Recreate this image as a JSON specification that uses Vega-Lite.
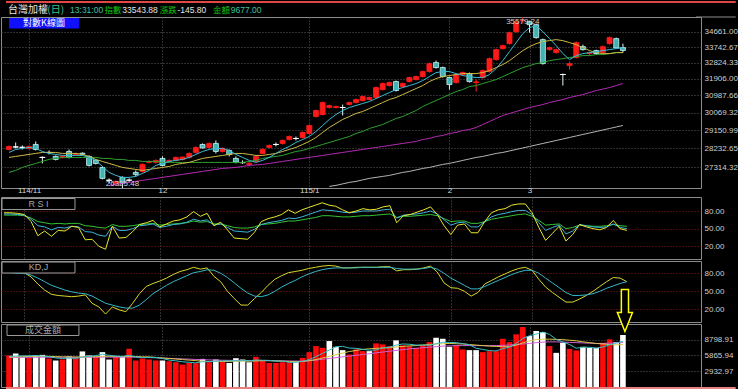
{
"$schema":"https://vega.github.io/schema/vega-lite/v6.json",
"background":"#000000",
"padding":0,
"bounds":"flush",
"spacing":9,
"resolve":{"scale":{"color":"independent"}},
"config":{
 "view":{"stroke":"#8c8c8c","strokeWidth":1},
 "axis":{"labelFont":"Liberation Sans","labelFontSize":8,"labelColor":"#cfcfcf","domain":false,"ticks":false,"gridDash":[1,2],"gridColor":"#5c5c5c","gridWidth":1,"gridOpacity":1,"labelOverlap":false,"labelFlush":false}
},
"datasets":{"k":[
{"i":0,"o":28175,"h":28374,"l":28126,"c":28324,"m5":28027,"m10":27782,"m20":27058,"r1":77,"r2":75,"r3":73,"k":83,"d":81,"v":5866,"u":1,"v5":5700,"v10":5600,"v20":5500},
{"i":1,"o":28300,"h":28524,"l":28225,"c":28300,"m5":28175,"m10":27831,"m20":27154,"r1":77,"r2":75,"r3":73,"k":83,"d":81,"v":6240,"u":0,"v5":5750,"v10":5620,"v20":5500},
{"i":2,"o":28280,"h":28374,"l":28175,"c":28280,"m5":28225,"m10":27880,"m20":27297,"r1":76,"r2":74,"r3":73,"k":82,"d":80,"v":5603,"u":0,"v5":5800,"v10":5650,"v20":5510},
{"i":3,"o":28225,"h":28374,"l":28175,"c":28324,"m5":28275,"m10":27929,"m20":27394,"r1":74,"r2":73,"r3":72,"k":81,"d":80,"v":5416,"u":1,"v5":5800,"v10":5680,"v20":5520},
{"i":4,"o":28424,"h":28574,"l":28126,"c":28175,"m5":28225,"m10":27978,"m20":27490,"r1":62,"r2":66,"r3":68,"k":74,"d":77,"v":5866,"u":0,"v5":5850,"v10":5700,"v20":5530},
{"i":5,"o":27782,"h":27831,"l":27490,"c":27782,"m5":28076,"m10":28027,"m20":27587,"r1":38,"r2":55,"r3":62,"k":62,"d":72,"v":5978,"u":0,"v5":5750,"v10":5720,"v20":5540},
{"i":6,"o":28027,"h":28126,"l":27929,"c":28027,"m5":27978,"m10":28027,"m20":27685,"r1":46,"r2":53,"r3":60,"k":52,"d":66,"v":5303,"u":1,"v5":5650,"v10":5700,"v20":5550},
{"i":7,"o":27831,"h":27880,"l":27636,"c":27685,"m5":27929,"m10":28027,"m20":27733,"r1":37,"r2":48,"r3":58,"k":45,"d":60,"v":4929,"u":0,"v5":5400,"v10":5650,"v20":5550},
{"i":8,"o":27782,"h":27880,"l":27733,"c":27831,"m5":27880,"m10":27978,"m20":27782,"r1":47,"r2":52,"r3":59,"k":43,"d":56,"v":5116,"u":1,"v5":5300,"v10":5600,"v20":5540},
{"i":9,"o":28076,"h":28175,"l":27733,"c":27782,"m5":27880,"m10":27978,"m20":27782,"r1":46,"r2":51,"r3":58,"k":42,"d":52,"v":5678,"u":0,"v5":5380,"v10":5600,"v20":5530},
{"i":10,"o":27929,"h":28027,"l":27880,"c":27978,"m5":27880,"m10":27978,"m20":27782,"r1":54,"r2":54,"r3":59,"k":41,"d":49,"v":5547,"u":1,"v5":5320,"v10":5580,"v20":5520},
{"i":11,"o":27990,"h":28027,"l":27880,"c":27940,"m5":27880,"m10":27929,"m20":27782,"r1":52,"r2":53,"r3":59,"k":42,"d":47,"v":6615,"u":0,"v5":5600,"v10":5600,"v20":5520},
{"i":12,"o":27831,"h":27880,"l":27345,"c":27394,"m5":27782,"m10":27831,"m20":27782,"r1":31,"r2":45,"r3":55,"k":44,"d":46,"v":5866,"u":0,"v5":5700,"v10":5620,"v20":5530},
{"i":13,"o":27636,"h":27685,"l":27442,"c":27490,"m5":27636,"m10":27685,"m20":27782,"r1":32,"r2":44,"r3":54,"k":30,"d":42,"v":5734,"u":1,"v5":5850,"v10":5650,"v20":5540},
{"i":14,"o":27297,"h":27345,"l":26728,"c":26775,"m5":27345,"m10":27587,"m20":27733,"r1":20,"r2":39,"r3":52,"k":24,"d":36,"v":6484,"u":0,"v5":6100,"v10":5700,"v20":5560},
{"i":15,"o":26685,"h":26775,"l":26540,"c":26685,"m5":27058,"m10":27490,"m20":27733,"m60":26447,"r1":15,"r2":37,"r3":51,"k":12,"d":30,"v":5116,"u":0,"v5":5900,"v10":5720,"v20":5560},
{"i":16,"o":26540,"h":26681,"l":26447,"c":26633,"m5":26916,"m10":27394,"m20":27685,"m60":26493,"r1":54,"r2":54,"r3":57,"k":24,"d":27,"v":5603,"u":1,"v5":5750,"v10":5700,"v20":5550},
{"i":17,"o":26822,"h":26869,"l":26325.48,"c":26540,"m5":26822,"m10":27297,"m20":27685,"m60":26540,"r1":34,"r2":47,"r3":54,"k":19,"d":24,"v":5734,"u":0,"v5":5700,"v10":5650,"v20":5550},
{"i":18,"o":26690,"h":26775,"l":26587,"c":26690,"m5":26822,"m10":27249,"m20":27636,"m60":26587,"r1":35,"r2":47,"r3":54,"k":16,"d":22,"v":7102,"u":1,"v5":5900,"v10":5700,"v20":5570},
{"i":19,"o":27058,"h":27154,"l":26869,"c":26963,"m5":26869,"m10":27202,"m20":27636,"m60":26633,"r1":45,"r2":50,"r3":55,"k":30,"d":22,"v":4929,"u":1,"v5":5600,"v10":5650,"v20":5550},
{"i":20,"o":27106,"h":27490,"l":27058,"c":27442,"m5":27011,"m10":27154,"m20":27587,"m60":26681,"r1":57,"r2":55,"r3":57,"k":46,"d":27,"v":5303,"u":1,"v5":5500,"v10":5600,"v20":5520},
{"i":21,"o":27539,"h":27636,"l":27490,"c":27587,"m5":27154,"m10":27202,"m20":27587,"m60":26728,"r1":60,"r2":56,"r3":58,"k":58,"d":36,"v":5116,"u":1,"v5":5500,"v10":5600,"v20":5480},
{"i":22,"o":27539,"h":27685,"l":27490,"c":27636,"m5":27394,"m10":27249,"m20":27587,"m60":26775,"r1":64,"r2":58,"r3":59,"k":63,"d":46,"v":4929,"u":1,"v5":5500,"v10":5500,"v20":5430},
{"i":23,"o":27733,"h":27831,"l":27345,"c":27394,"m5":27490,"m10":27297,"m20":27539,"m60":26822,"r1":53,"r2":52,"r3":56,"k":67,"d":53,"v":4929,"u":0,"v5":5300,"v10":5400,"v20":5380},
{"i":24,"o":27587,"h":27685,"l":27539,"c":27636,"m5":27587,"m10":27345,"m20":27539,"m60":26869,"r1":58,"r2":54,"r3":57,"k":72,"d":60,"v":4797,"u":1,"v5":5000,"v10":5300,"v20":5330},
{"i":25,"o":27636,"h":27831,"l":27587,"c":27782,"m5":27636,"m10":27442,"m20":27539,"m60":26916,"r1":63,"r2":57,"r3":58,"k":78,"d":66,"v":4610,"u":1,"v5":4870,"v10":5200,"v20":5280},
{"i":26,"o":27685,"h":27831,"l":27636,"c":27800,"m5":27685,"m10":27490,"m20":27539,"m60":26963,"r1":65,"r2":58,"r3":59,"k":83,"d":71,"v":4179,"u":1,"v5":4690,"v10":5100,"v20":5230},
{"i":27,"o":27782,"h":28027,"l":27733,"c":27978,"m5":27782,"m10":27539,"m20":27539,"m60":27011,"r1":70,"r2":61,"r3":60,"k":86,"d":76,"v":4479,"u":1,"v5":4600,"v10":5000,"v20":5180},
{"i":28,"o":28027,"h":28324,"l":27978,"c":28275,"m5":27929,"m10":27636,"m20":27539,"m60":27058,"r1":79,"r2":66,"r3":63,"k":90,"d":81,"v":4423,"u":1,"v5":4490,"v10":4900,"v20":5130},
{"i":29,"o":28424,"h":28474,"l":28225,"c":28250,"m5":28076,"m10":27733,"m20":27539,"m60":27106,"r1":71,"r2":63,"r3":61,"k":87,"d":83,"v":5228,"u":0,"v5":4700,"v10":4800,"v20":5080},
{"i":30,"o":28275,"h":28524,"l":28225,"c":28474,"m5":28175,"m10":27782,"m20":27539,"m60":27154,"r1":76,"r2":65,"r3":62,"k":89,"d":86,"v":4610,"u":1,"v5":4720,"v10":4750,"v20":5040},
{"i":31,"o":28474,"h":28625,"l":27978,"c":28076,"m5":28225,"m10":27831,"m20":27539,"m60":27202,"r1":55,"r2":56,"r3":58,"k":75,"d":85,"v":5116,"u":0,"v5":4800,"v10":4750,"v20":5000},
{"i":32,"o":28076,"h":28275,"l":28027,"c":28225,"m5":28225,"m10":27880,"m20":27539,"m60":27249,"r1":61,"r2":58,"r3":58,"k":66,"d":80,"v":4797,"u":1,"v5":4850,"v10":4750,"v20":4980},
{"i":33,"o":28126,"h":28175,"l":27831,"c":27929,"m5":28126,"m10":27929,"m20":27539,"m60":27273,"r1":48,"r2":52,"r3":55,"k":50,"d":73,"v":4479,"u":0,"v5":4870,"v10":4750,"v20":4960},
{"i":34,"o":27733,"h":27831,"l":27490,"c":27560,"m5":27929,"m10":27978,"m20":27539,"m60":27297,"r1":34,"r2":46,"r3":52,"k":38,"d":64,"v":5360,"u":0,"v5":4870,"v10":4780,"v20":4940},
{"i":35,"o":27530,"h":27640,"l":27470,"c":27530,"m5":27782,"m10":27978,"m20":27539,"m60":27345,"r1":33,"r2":45,"r3":51,"k":27,"d":55,"v":5116,"u":0,"v5":4920,"v10":4800,"v20":4930},
{"i":36,"o":27442,"h":27587,"l":27345,"c":27500,"m5":27636,"m10":27929,"m20":27587,"m60":27394,"r1":32,"r2":44,"r3":51,"k":27,"d":47,"v":4610,"u":0,"v5":4870,"v10":4800,"v20":4920},
{"i":37,"o":27587,"h":27880,"l":27539,"c":27831,"m5":27539,"m10":27880,"m20":27636,"m60":27418,"r1":44,"r2":49,"r3":53,"k":38,"d":42,"v":5603,"u":1,"v5":5030,"v10":4850,"v20":4910},
{"i":38,"o":27978,"h":28225,"l":27929,"c":28175,"m5":27636,"m10":27880,"m20":27733,"m60":27442,"r1":62,"r2":57,"r3":57,"k":48,"d":41,"v":4985,"u":1,"v5":4980,"v10":4900,"v20":4900},
{"i":39,"o":28275,"h":28424,"l":28225,"c":28374,"m5":27782,"m10":27929,"m20":27782,"m60":27490,"r1":67,"r2":60,"r3":58,"k":60,"d":44,"v":4479,"u":1,"v5":4950,"v10":4900,"v20":4890},
{"i":40,"o":28424,"h":28524,"l":28324,"c":28424,"m5":27978,"m10":27978,"m20":27831,"m60":27539,"r1":70,"r2":62,"r3":59,"k":70,"d":50,"v":4479,"u":1,"v5":4830,"v10":4850,"v20":4880},
{"i":41,"o":28474,"h":28675,"l":28424,"c":28625,"m5":28175,"m10":28076,"m20":27880,"m60":27587,"r1":74,"r2":64,"r3":61,"k":76,"d":57,"v":4610,"u":1,"v5":4830,"v10":4800,"v20":4860},
{"i":42,"o":28675,"h":28878,"l":28625,"c":28827,"m5":28324,"m10":28175,"m20":27978,"m60":27636,"r1":82,"r2":68,"r3":63,"k":81,"d":63,"v":4610,"u":1,"v5":4590,"v10":4750,"v20":4840},
{"i":43,"o":28726,"h":28827,"l":28625,"c":28726,"m5":28524,"m10":28275,"m20":28076,"m60":27685,"r1":76,"r2":67,"r3":63,"k":83,"d":68,"v":4797,"u":0,"v5":4590,"v10":4700,"v20":4820},
{"i":44,"o":28776,"h":29081,"l":28726,"c":29030,"m5":28675,"m10":28424,"m20":28126,"m60":27733,"r1":82,"r2":70,"r3":65,"k":85,"d":74,"v":5416,"u":1,"v5":4780,"v10":4750,"v20":4820},
{"i":45,"o":28979,"h":29442,"l":28929,"c":29390,"m5":28827,"m10":28574,"m20":28225,"m60":27782,"r1":86,"r2":74,"r3":67,"k":88,"d":79,"v":6484,"u":1,"v5":5100,"v10":4900,"v20":4900},
{"i":46,"o":29859,"h":30229,"l":29807,"c":30176,"m5":29081,"m10":28776,"m20":28324,"m60":27831,"r1":90,"r2":78,"r3":69,"k":90,"d":83,"v":7608,"u":1,"v5":5650,"v10":5100,"v20":5000},
{"i":47,"o":29964,"h":30657,"l":29912,"c":30603,"m5":29390,"m10":29030,"m20":28424,"m60":27880,"r1":94,"r2":82,"r3":72,"k":92,"d":86,"v":7290,"u":1,"v5":6250,"v10":5400,"v20":5150},
{"i":48,"o":30335,"h":30496,"l":30282,"c":30442,"m5":29702,"m10":29287,"m20":28524,"m60":27929,"m120":26400,"r1":90,"r2":81,"r3":72,"k":93,"d":88,"v":8545,"u":0,"v5":6870,"v10":5700,"v20":5300},
{"i":49,"o":30335,"h":30442,"l":30282,"c":30389,"m5":29964,"m10":29494,"m20":28625,"m60":27978,"m120":26447,"r1":88,"r2":80,"r3":71,"k":92,"d":89,"v":7477,"u":0,"v5":7480,"v10":6000,"v20":5450},
{"i":50,"o":30335,"h":30496,"l":29912,"c":30335,"m5":30176,"m10":29702,"m20":28726,"m60":28027,"m120":26517,"r1":82,"r2":78,"r3":70,"k":89,"d":89,"v":6859,"u":0,"v5":7560,"v10":6300,"v20":5600},
{"i":51,"o":30496,"h":30657,"l":30442,"c":30603,"m5":30335,"m10":29859,"m20":28827,"m60":28076,"m120":26587,"r1":77,"r2":77,"r3":70,"k":89,"d":89,"v":6053,"u":1,"v5":7240,"v10":6600,"v20":5750},
{"i":52,"o":30603,"h":30820,"l":30550,"c":30765,"m5":30442,"m10":30017,"m20":28979,"m60":28126,"m120":26633,"r1":80,"r2":78,"r3":71,"k":90,"d":89,"v":6990,"u":1,"v5":7190,"v10":6800,"v20":5900},
{"i":53,"o":30711,"h":30982,"l":30657,"c":30928,"m5":30550,"m10":30123,"m20":29081,"m60":28175,"m120":26704,"r1":84,"r2":80,"r3":72,"k":90,"d":90,"v":6671,"u":1,"v5":7010,"v10":7000,"v20":6050},
{"i":54,"o":30765,"h":30928,"l":30711,"c":30874,"m5":30657,"m10":30282,"m20":29235,"m60":28225,"m120":26775,"r1":82,"r2":80,"r3":72,"k":90,"d":90,"v":6671,"u":0,"v5":6850,"v10":7100,"v20":6200},
{"i":55,"o":30874,"h":31476,"l":30820,"c":31421,"m5":30820,"m10":30442,"m20":29338,"m60":28275,"m120":26822,"r1":83,"r2":80,"r3":73,"k":90,"d":90,"v":8114,"u":1,"v5":6880,"v10":7200,"v20":6350},
{"i":56,"o":31311,"h":31699,"l":31256,"c":31643,"m5":30982,"m10":30603,"m20":29442,"m60":28324,"m120":26869,"r1":87,"r2":82,"r3":74,"k":91,"d":90,"v":7927,"u":1,"v5":7280,"v10":7250,"v20":6500},
{"i":57,"o":31532,"h":31754,"l":31476,"c":31699,"m5":31146,"m10":30765,"m20":29597,"m60":28374,"m120":26916,"r1":89,"r2":83,"r3":75,"k":91,"d":90,"v":7608,"u":1,"v5":7400,"v10":7300,"v20":6650},
{"i":58,"o":31754,"h":31810,"l":31201,"c":31256,"m5":31311,"m10":30874,"m20":29754,"m60":28424,"m120":26987,"r1":60,"r2":68,"r3":69,"k":84,"d":88,"v":8677,"u":0,"v5":7800,"v10":7450,"v20":6800},
{"i":59,"o":31476,"h":31699,"l":31421,"c":31643,"m5":31421,"m10":31037,"m20":29859,"m60":28474,"m120":27058,"r1":72,"r2":73,"r3":71,"k":86,"d":87,"v":7740,"u":1,"v5":8000,"v10":7550,"v20":6950},
{"i":60,"o":31754,"h":32035,"l":31699,"c":31979,"m5":31532,"m10":31201,"m20":30017,"m60":28524,"m120":27106,"r1":74,"r2":74,"r3":71,"k":86,"d":87,"v":7608,"u":1,"v5":7950,"v10":7650,"v20":7100},
{"i":61,"o":31867,"h":32091,"l":31810,"c":32035,"m5":31643,"m10":31366,"m20":30176,"m60":28574,"m120":27178,"r1":78,"r2":75,"r3":72,"k":87,"d":87,"v":7290,"u":1,"v5":7800,"v10":7700,"v20":7200},
{"i":62,"o":32035,"h":32375,"l":31979,"c":32318,"m5":31810,"m10":31532,"m20":30389,"m60":28675,"m120":27249,"r1":82,"r2":77,"r3":73,"k":89,"d":88,"v":7796,"u":1,"v5":7800,"v10":7800,"v20":7300},
{"i":63,"o":32318,"h":32834,"l":32261,"c":32776,"m5":32035,"m10":31754,"m20":30550,"m60":28726,"m120":27297,"r1":87,"r2":80,"r3":74,"k":92,"d":90,"v":8358,"u":1,"v5":7770,"v10":7900,"v20":7400},
{"i":64,"o":32834,"h":32949,"l":32489,"c":32546,"m5":32261,"m10":31923,"m20":30711,"m60":28827,"m120":27370,"r1":74,"r2":75,"r3":72,"k":82,"d":87,"v":9164,"u":0,"v5":8040,"v10":8000,"v20":7500},
{"i":65,"o":32546,"h":32603,"l":31979,"c":32035,"m5":32318,"m10":32035,"m20":30874,"m60":28878,"m120":27442,"r1":55,"r2":65,"r3":67,"k":64,"d":80,"v":8976,"u":0,"v5":8320,"v10":8050,"v20":7600},
{"i":66,"o":31979,"h":32035,"l":31311,"c":31588,"m5":32318,"m10":32091,"m20":31037,"m60":28979,"m120":27490,"r1":40,"r2":56,"r3":62,"k":56,"d":72,"v":7477,"u":0,"v5":8290,"v10":8100,"v20":7650},
{"i":67,"o":31699,"h":32205,"l":31643,"c":32148,"m5":32205,"m10":32148,"m20":31201,"m60":29030,"m120":27563,"r1":56,"r2":60,"r3":63,"k":55,"d":66,"v":7740,"u":1,"v5":8260,"v10":8050,"v20":7700},
{"i":68,"o":32148,"h":32318,"l":32091,"c":32261,"m5":32091,"m10":32205,"m20":31311,"m60":29133,"m120":27636,"r1":58,"r2":61,"r3":63,"k":50,"d":60,"v":6990,"u":1,"v5":8070,"v10":8000,"v20":7700},
{"i":69,"o":32205,"h":32261,"l":31699,"c":31754,"m5":32035,"m10":32205,"m20":31476,"m60":29184,"m120":27709,"r1":43,"r2":53,"r3":59,"k":42,"d":54,"v":6859,"u":0,"v5":7870,"v10":7900,"v20":7700},
{"i":70,"o":31699,"h":31867,"l":31201,"c":31740,"m5":31979,"m10":32205,"m20":31532,"m60":29287,"m120":27782,"r1":43,"r2":53,"r3":59,"k":48,"d":54,"v":6859,"u":0,"v5":7200,"v10":7800,"v20":7700},
{"i":71,"o":31979,"h":32432,"l":31923,"c":32375,"m5":31979,"m10":32261,"m20":31643,"m60":29442,"m120":27831,"r1":62,"r2":62,"r3":62,"k":62,"d":58,"v":6484,"u":1,"v5":6990,"v10":7700,"v20":7700},
{"i":72,"o":32318,"h":33124,"l":32261,"c":33066,"m5":32148,"m10":32375,"m20":31754,"m60":29597,"m120":27905,"r1":77,"r2":70,"r3":66,"k":68,"d":63,"v":6671,"u":1,"v5":6770,"v10":7600,"v20":7700},
{"i":73,"o":33008,"h":33652,"l":32949,"c":33593,"m5":32489,"m10":32546,"m20":31867,"m60":29754,"m120":27978,"r1":82,"r2":74,"r3":68,"k":74,"d":68,"v":6671,"u":1,"v5":6710,"v10":7550,"v20":7700},
{"i":74,"o":33652,"h":33890,"l":33593,"c":33830,"m5":32949,"m10":32718,"m20":32035,"m60":29912,"m120":28027,"r1":84,"r2":76,"r3":70,"k":79,"d":73,"v":8976,"u":1,"v5":7130,"v10":7500,"v20":7750},
{"i":75,"o":33949,"h":34673,"l":33890,"c":34612,"m5":33475,"m10":32949,"m20":32205,"m60":30017,"m120":28101,"r1":90,"r2":79,"r3":72,"k":84,"d":78,"v":8358,"u":1,"v5":7410,"v10":7500,"v20":7800},
{"i":76,"o":34673,"h":35351,"l":34612,"c":35288,"m5":34009,"m10":33240,"m20":32375,"m60":30123,"m120":28175,"r1":92,"r2":81,"r3":74,"k":88,"d":82,"v":9801,"u":1,"v5":8100,"v10":7800,"v20":7900},
{"i":77,"o":35340,"h":35579.24,"l":35165,"c":35380,"m5":34552,"m10":33534,"m20":32546,"m60":30229,"m120":28250,"r1":92,"r2":81,"r3":75,"k":90,"d":85,"v":11169,"u":1,"v5":9020,"v10":8200,"v20":8000},
{"i":78,"o":35288,"h":35351,"l":34612,"c":35103,"m5":34918,"m10":33770,"m20":32661,"m60":30335,"m120":28324,"r1":77,"r2":74,"r3":71,"k":85,"d":85,"v":9482,"u":0,"v5":9550,"v10":8600,"v20":8100},
{"i":79,"o":35103,"h":35165,"l":34249,"c":34310,"m5":35041,"m10":33949,"m20":32776,"m60":30416,"m120":28399,"r1":52,"r2":60,"r3":64,"k":70,"d":80,"v":10419,"u":0,"v5":9850,"v10":8800,"v20":8250},
{"i":80,"o":34189,"h":34249,"l":32718,"c":32776,"m5":34673,"m10":34069,"m20":32834,"m60":30496,"m120":28474,"r1":30,"r2":47,"r3":56,"k":57,"d":72,"v":10232,"u":0,"v5":10220,"v10":8900,"v20":8350},
{"i":81,"o":33593,"h":33770,"l":33534,"c":33711,"m5":34249,"m10":34129,"m20":32949,"m60":30603,"m120":28549,"r1":42,"r2":52,"r3":57,"k":48,"d":64,"v":7608,"u":1,"v5":9780,"v10":8900,"v20":8400},
{"i":82,"o":33416,"h":33652,"l":33358,"c":33593,"m5":33830,"m10":34189,"m20":33008,"m60":30684,"m120":28625,"r1":54,"r2":56,"r3":58,"k":40,"d":56,"v":6353,"u":0,"v5":8870,"v10":8850,"v20":8400},
{"i":83,"o":32152,"h":32205,"l":31532,"c":32152,"m5":33358,"m10":34129,"m20":33066,"m60":30765,"m120":28700,"r1":29,"r2":41,"r3":50,"k":32,"d":48,"v":8227,"u":0,"v5":8380,"v10":8800,"v20":8350},
{"i":84,"o":32661,"h":32891,"l":32432,"c":32776,"m5":33008,"m10":34009,"m20":33124,"m60":30874,"m120":28776,"r1":40,"r2":46,"r3":52,"k":32,"d":43,"v":7102,"u":1,"v5":7900,"v10":8700,"v20":8300},
{"i":85,"o":33124,"h":34069,"l":33066,"c":34009,"m5":33240,"m10":33890,"m20":33182,"m60":30955,"m120":28853,"r1":57,"r2":57,"r3":56,"k":37,"d":43,"v":6803,"u":1,"v5":7220,"v10":8600,"v20":8250},
{"i":86,"o":33770,"h":33890,"l":33534,"c":33593,"m5":33358,"m10":33711,"m20":33240,"m60":31037,"m120":28929,"r1":53,"r2":55,"r3":55,"k":43,"d":44,"v":7477,"u":0,"v5":7380,"v10":8400,"v20":8200},
{"i":87,"o":33358,"h":33475,"l":33240,"c":33416,"m5":33416,"m10":33534,"m20":33240,"m60":31146,"m120":29005,"r1":50,"r2":53,"r3":54,"k":50,"d":46,"v":7290,"u":0,"v5":7400,"v10":8250,"v20":8150},
{"i":88,"o":33534,"h":33593,"l":33299,"c":33358,"m5":33475,"m10":33416,"m20":33299,"m60":31256,"m120":29081,"r1":48,"r2":52,"r3":54,"k":58,"d":50,"v":7290,"u":0,"v5":7220,"v10":8100,"v20":8100},
{"i":89,"o":33416,"h":33830,"l":33358,"c":33770,"m5":33534,"m10":33358,"m20":33299,"m60":31338,"m120":29159,"r1":52,"r2":53,"r3":55,"k":66,"d":55,"v":8227,"u":1,"v5":7450,"v10":8000,"v20":8100},
{"i":90,"o":33949,"h":34370,"l":33890,"c":34310,"m5":33593,"m10":33358,"m20":33358,"m60":31421,"m120":29235,"r1":64,"r2":58,"r3":57,"k":73,"d":59,"v":8864,"u":1,"v5":7850,"v10":7900,"v20":8150},
{"i":91,"o":34249,"h":34310,"l":33652,"c":33689.68,"m5":33652,"m10":33416,"m20":33416,"m60":31532,"m120":29313,"r1":50,"r2":52,"r3":55,"k":72,"d":63,"v":8358,"u":0,"v5":8200,"v10":7850,"v20":8200},
{"i":92,"o":33711,"h":33949,"l":33416,"c":33543.88,"m5":33711,"m10":33416,"m20":33416,"m60":31643,"m120":29390,"r1":47,"r2":50,"r3":54,"k":66,"d":66,"v":9677,"u":0,"v5":8500,"v10":7900,"v20":8300}
]},
"vconcat":[
 {
  "width":700,"height":171,
  "data":{"name":"k"},
  "resolve":{"axis":{"x":"independent","y":"independent"}},
  "layer":[
   {"mark":{"type":"rule","strokeWidth":1},
    "encoding":{
     "x":{"field":"i","type":"quantitative","scale":{"domain":[-0.45,102.95],"nice":false,"zero":false},"axis":{"orient":"bottom","values":[3,23,45,66,78],"labelExpr":"datum.value == 3 ? '114/11' : datum.value == 23 ? '12' : datum.value == 45 ? '115/1' : datum.value == 66 ? '2' : '3'","grid":true,"labelPadding":-2,"title":null,"labelColor":"#d8d8d8"}},
     "y":{"field":"l","type":"quantitative","scale":{"type":"log","domain":[26325.48,35579.24],"nice":false,"zero":false},"axis":{"orient":"right","values":[27314.32,28232.65,29150.99,30069.32,30987.66,31906.0,32824.33,33742.67,34661.0],"format":".2f","grid":true,"labelPadding":3,"title":null}},
     "y2":{"field":"h"},
     "color":{"condition":{"test":"datum.c > datum.o","value":"#ff2020"},"value":"#e0f4f4"}
    }},
   {"mark":{"type":"bar","size":5,"strokeWidth":0.8},
    "encoding":{
     "x":{"field":"i","type":"quantitative","axis":null},
     "y":{"field":"o","type":"quantitative","axis":null},
     "y2":{"field":"c"},
     "fill":{"condition":[{"test":"datum.c > datum.o","value":"#ff1a1a"},{"test":"datum.c < datum.o","value":"#42b2b2"}],"value":"#ffffff"},
     "stroke":{"condition":[{"test":"datum.c > datum.o","value":"#ff1a1a"},{"test":"datum.c < datum.o","value":"#c8f8f8"}],"value":"#ffffff"}
    }},
   {"transform":[{"filter":"datum.o == datum.c"}],
    "mark":{"type":"tick","orient":"horizontal","size":6,"thickness":1,"color":"#ffffff"},
    "encoding":{"x":{"field":"i","type":"quantitative","axis":null},"y":{"field":"c","type":"quantitative","axis":null}}},
   {"transform":[{"fold":["m120","m60","m20","m10","m5"],"as":["ma","val"]}],
    "mark":{"type":"line","strokeWidth":1},
    "encoding":{"x":{"field":"i","type":"quantitative","axis":null},"y":{"field":"val","type":"quantitative","axis":null},
     "color":{"field":"ma","type":"nominal","scale":{"domain":["m120","m60","m20","m10","m5"],"range":["#b4b4b4","#b42ab4","#2ea02e","#cdbb44","#3cbcd4"]},"legend":null}}},
   {"data":{"values":[{}]},"mark":{"type":"rule","color":"#e04848","strokeWidth":2},"encoding":{"x":{"datum":-0.45,"axis":null},"x2":{"datum":108.9},"y":{"datum":36532,"axis":null}}},
   {"data":{"values":[{}]},"mark":{"type":"rule","color":"#8c8c8c","strokeWidth":1},"encoding":{"x":{"datum":102.95,"axis":null},"x2":{"datum":108.9},"y":{"datum":35579.24,"axis":null}}},
   {"data":{"values":[{}]},"mark":{"type":"text","text":"台灣加權","font":"Noto Sans CJK TC","fontSize":10,"align":"left","baseline":"middle","color":"#e6e6e6"},"encoding":{"x":{"datum":-0.15,"axis":null},"y":{"datum":36020,"axis":null}}},
   {"data":{"values":[{}]},"mark":{"type":"text","text":"(日)","font":"Noto Sans CJK TC","fontSize":10,"align":"left","baseline":"middle","color":"#3cc08c"},"encoding":{"x":{"datum":5.75,"axis":null},"y":{"datum":36020,"axis":null}}},
   {"data":{"values":[{}]},"mark":{"type":"text","text":"13:31:00","font":"Liberation Sans","fontSize":8.5,"align":"left","baseline":"middle","color":"#3cc0a0"},"encoding":{"x":{"datum":9.15,"axis":null},"y":{"datum":36020,"axis":null}}},
   {"data":{"values":[{}]},"mark":{"type":"text","text":"指數","font":"Noto Sans CJK TC","fontSize":8.5,"align":"left","baseline":"middle","color":"#10c010"},"encoding":{"x":{"datum":14.32,"axis":null},"y":{"datum":36020,"axis":null}}},
   {"data":{"values":[{}]},"mark":{"type":"text","text":"33543.88","font":"Liberation Sans","fontSize":8.5,"align":"left","baseline":"middle","color":"#e6e6e6"},"encoding":{"x":{"datum":16.98,"axis":null},"y":{"datum":36020,"axis":null}}},
   {"data":{"values":[{}]},"mark":{"type":"text","text":"漲跌","font":"Noto Sans CJK TC","fontSize":8.5,"align":"left","baseline":"middle","color":"#10c010"},"encoding":{"x":{"datum":22.59,"axis":null},"y":{"datum":36020,"axis":null}}},
   {"data":{"values":[{}]},"mark":{"type":"text","text":"-145.80","font":"Liberation Sans","fontSize":8.5,"align":"left","baseline":"middle","color":"#e6e6e6"},"encoding":{"x":{"datum":25.25,"axis":null},"y":{"datum":36020,"axis":null}}},
   {"data":{"values":[{}]},"mark":{"type":"text","text":"金額","font":"Noto Sans CJK TC","fontSize":8.5,"align":"left","baseline":"middle","color":"#10c010"},"encoding":{"x":{"datum":30.57,"axis":null},"y":{"datum":36020,"axis":null}}},
   {"data":{"values":[{}]},"mark":{"type":"text","text":"9677.00","font":"Liberation Sans","fontSize":8.5,"align":"left","baseline":"middle","color":"#3cc0a0"},"encoding":{"x":{"datum":33.23,"axis":null},"y":{"datum":36020,"axis":null}}},
   {"data":{"values":[{}]},"mark":{"type":"rect","fill":"#1010ff"},"encoding":{"x":{"datum":-0.01,"axis":null},"x2":{"datum":10.48},"y":{"datum":35516,"axis":null},"y2":{"datum":34865}}},
   {"data":{"values":[{}]},"mark":{"type":"text","text":"對數K線圖","font":"Noto Sans CJK TC","fontSize":9,"align":"center","baseline":"middle","color":"#ffffff"},"encoding":{"x":{"datum":5.24,"axis":null},"y":{"datum":35188,"axis":null}}},
   {"data":{"values":[{}]},"mark":{"type":"text","text":"35579.24","font":"Liberation Sans","fontSize":8,"align":"center","baseline":"top","dy":1,"color":"#d0d0d0"},"encoding":{"x":{"datum":77,"axis":null},"y":{"datum":35579.24,"axis":null}}},
   {"data":{"values":[{}]},"mark":{"type":"text","text":"26325.48","font":"Liberation Sans","fontSize":8,"align":"center","baseline":"bottom","dy":0,"color":"#d0d0e0"},"encoding":{"x":{"datum":17,"axis":null},"y":{"datum":26325.48,"axis":null}}}
  ]
 },
 {
  "spacing":2,
  "bounds":"flush",
  "resolve":{"scale":{"color":"independent"}},
  "vconcat":[
   {
    "width":700,"height":62,
    "resolve":{"axis":{"x":"independent","y":"independent"}},
    "layer":[
     {"data":{"name":"k"},"transform":[{"fold":["r3","r2","r1"],"as":["s","val"]}],
      "mark":{"type":"line","strokeWidth":1},
      "encoding":{
       "x":{"field":"i","type":"quantitative","scale":{"domain":[-0.45,102.95],"nice":false,"zero":false},"axis":{"orient":"bottom","values":[3,23,45,66,78],"labels":false,"grid":true,"title":null}},
       "y":{"field":"val","type":"quantitative","scale":{"domain":[-1.6,103.8],"nice":false,"zero":false},"axis":{"orient":"right","values":[20,50,80],"format":".2f","grid":true,"gridColor":"#8c1a1a","labelPadding":3,"title":null}},
       "color":{"field":"s","type":"nominal","scale":{"domain":["r3","r2","r1"],"range":["#34c434","#3cb4dc","#e8e82c"]},"legend":null}}},
     {"data":{"values":[{}]},"mark":{"type":"rect","fill":"#000000","stroke":"#9a9a9a","strokeWidth":1},"encoding":{"x":{"datum":-0.3,"axis":null},"x2":{"datum":10.48},"y":{"datum":101.2,"axis":null},"y2":{"datum":82.6}}},
     {"data":{"values":[{}]},"mark":{"type":"text","text":"R S I","font":"Liberation Sans","fontSize":9,"align":"center","baseline":"middle","color":"#a8a8a8"},"encoding":{"x":{"datum":5.09,"axis":null},"y":{"datum":91.9,"axis":null}}}
    ]
   },
   {
    "width":700,"height":61,
    "resolve":{"axis":{"x":"independent","y":"independent"}},
    "layer":[
     {"data":{"name":"k"},"transform":[{"fold":["k","d"],"as":["s","val"]}],
      "mark":{"type":"line","strokeWidth":1},
      "encoding":{
       "x":{"field":"i","type":"quantitative","scale":{"domain":[-0.45,102.95],"nice":false,"zero":false},"axis":{"orient":"bottom","values":[3,23,45,66,78],"labels":false,"grid":true,"title":null}},
       "y":{"field":"val","type":"quantitative","scale":{"domain":[-1.2,100.5],"nice":false,"zero":false},"axis":{"orient":"right","values":[20,50,80],"format":".2f","grid":true,"gridColor":"#8c1a1a","labelPadding":3,"title":null}},
       "color":{"field":"s","type":"nominal","scale":{"domain":["k","d"],"range":["#d8d82a","#35b8c8"]},"legend":null}}},
     {"data":{"values":[{}]},"mark":{"type":"rect","fill":"#000000","stroke":"#9a9a9a","strokeWidth":1},"encoding":{"x":{"datum":-0.3,"axis":null},"x2":{"datum":10.48},"y":{"datum":98.8,"axis":null},"y2":{"datum":80.5}}},
     {"data":{"values":[{}]},"mark":{"type":"text","text":"KD,J","font":"Liberation Sans","fontSize":9,"align":"center","baseline":"middle","color":"#a8a8a8"},"encoding":{"x":{"datum":5.09,"axis":null},"y":{"datum":89.7,"axis":null}}}
    ]
   },
   {
    "width":700,"height":63,
    "resolve":{"axis":{"x":"independent","y":"independent"}},
    "layer":[
     {"data":{"name":"k"},
      "mark":{"type":"bar","size":5.6},
      "encoding":{
       "x":{"field":"i","type":"quantitative","scale":{"domain":[-0.45,102.95],"nice":false,"zero":false},"axis":{"orient":"bottom","values":[3,23,45,66,78],"labels":false,"grid":true,"title":null}},
       "y":{"field":"v","type":"quantitative","scale":{"domain":[0,11720],"nice":false,"zero":true},"axis":{"orient":"right","values":[2932.97,5865.94,8798.91],"format":".2f","grid":true,"labelPadding":3,"title":null}},
       "color":{"condition":{"test":"datum.u == 1","value":"#ff0a0a"},"value":"#ffffff"}}},
     {"data":{"name":"k"},"transform":[{"fold":["v20","v10","v5"],"as":["s","val"]}],
      "mark":{"type":"line","strokeWidth":1},
      "encoding":{
       "x":{"field":"i","type":"quantitative","axis":null},
       "y":{"field":"val","type":"quantitative","axis":null},
       "color":{"field":"s","type":"nominal","scale":{"domain":["v20","v10","v5"],"range":["#d060d8","#d8c848","#38c0c8"]},"legend":null}}},
     {"data":{"values":[{}]},"mark":{"type":"rect","fill":"#000000","stroke":"#9a9a9a","strokeWidth":1},"encoding":{"x":{"datum":-0.3,"axis":null},"x2":{"datum":10.48},"y":{"datum":11534,"axis":null},"y2":{"datum":9581}}},
     {"data":{"values":[{}]},"mark":{"type":"text","text":"成交金額","font":"Noto Sans CJK TC","fontSize":9,"align":"center","baseline":"middle","color":"#a8a8a8"},"encoding":{"x":{"datum":5.09,"axis":null},"y":{"datum":10560,"axis":null}}},
     {"data":{"values":[{}]},"mark":{"type":"rule","color":"#e88080","strokeWidth":3,"yOffset":1.5},"encoding":{"x":{"datum":-0.45,"axis":null},"x2":{"datum":108.9},"y":{"datum":0,"axis":null}}},
     {"data":{"values":[{}]},"mark":{"type":"point","shape":"M -0.17 -1 L 0.17 -1 L 0.17 0.1 L 0.36 0.1 L 0 1 L -0.36 0.1 L -0.17 0.1 Z","size":1764,"filled":true,"fill":"#000000","stroke":"#ffff00","strokeWidth":1.5,"opacity":1},"encoding":{"x":{"datum":92.3,"axis":null},"y":{"datum":14230,"axis":null}}}
    ]
   }
  ]
 }
]
}
